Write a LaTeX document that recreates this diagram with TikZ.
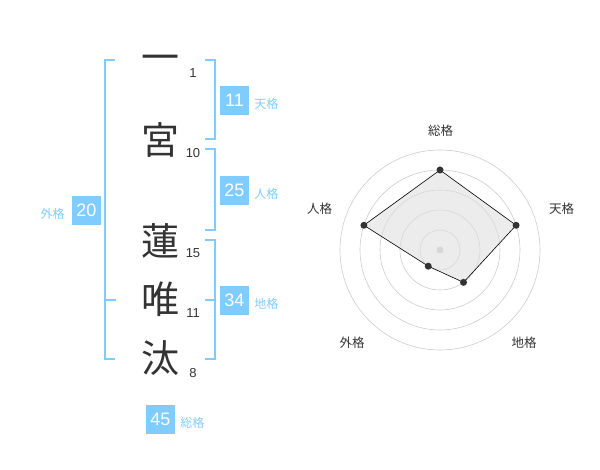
\documentclass[tikz,border=0pt]{standalone}
\usepackage{fontspec}
\setmainfont{Liberation Sans}
\newfontfamily\jp{Noto Sans CJK JP}
\usepackage{tikz}
\usetikzlibrary{positioning}
\definecolor{kakublue}{HTML}{80CCFF}
\definecolor{ink}{HTML}{333333}
\definecolor{ringgray}{HTML}{CCCCCC}
\tikzset{
bracket/.style={draw=kakublue,line width=2pt},
kanji/.style={font=\jp\fontsize{38}{38}\selectfont,text=ink,inner sep=0pt},
stroke/.style={font=\fontsize{13}{13}\selectfont,text=ink,inner sep=0pt},
numbox/.style={fill=kakublue,text=white,minimum width=29pt,minimum height=29pt,inner sep=0pt,font=\fontsize{18}{18}\selectfont},
kaku/.style={font=\jp\fontsize{12}{12}\selectfont,text=kakublue,inner sep=0pt},
ring/.style={draw=ringgray,line width=0.6pt},
axis/.style={font=\jp\fontsize{12.5}{12.5}\selectfont,text=ink,inner sep=0pt}
}

\begin{document}
\begin{tikzpicture}[x=1pt,y=-1pt]
\useasboundingbox (0,0) rectangle (600,470);

% brackets
\draw[bracket] (115,60)--(105,60)--(105,359)--(115,359);
\draw[bracket] (105,300)--(116,300);
\foreach \a/\b in {60/139,149/230,240/359}{
\draw[bracket] (205,\a)--(215,\a)--(215,\b)--(205,\b);
}
\draw[bracket] (205,300)--(215,300);

% name and strokes
\foreach \c/\y/\s/\t/\n in {一/63/1/73/a,宮/140/10/153/b,蓮/241/15/253/c,唯/299/11/313/d,汰/358/8/373/e}{
\node[kanji] (k\n) at (160,\y) {\c};
\node[stroke] (s\n) at (193,\t) {\s};
}

% kaku boxes
\node[numbox] (ten) at (234.5,100.5) {11};
\node[kaku,right=5pt of ten,yshift=-3pt] (tenl) {天格};
\node[numbox] (jin) at (234.5,190.5) {25};
\node[kaku,right=5pt of jin,yshift=-3pt] (jinl) {人格};
\node[numbox] (chi) at (234.5,300.5) {34};
\node[kaku,right=5pt of chi,yshift=-3pt] (chil) {地格};
\node[numbox] (gai) at (86.5,210.5) {20};
\node[kaku,left=7pt of gai,yshift=-3pt] (gail) {外格};
\node[numbox] (so) at (160.5,419.5) {45};
\node[kaku,right=5pt of so,yshift=-3pt] (sol) {総格};

% radar
\begin{scope}[shift={(440,250)},yscale=-1]
\foreach \r in {20,40,...,100}{
\draw[ring] (0,0) circle (\r pt);
}
\fill[ringgray] (0,0) circle (3.5pt);
\coordinate (pso) at (90:80);
\coordinate (pten) at (18:80);
\coordinate (pchi) at (-54:40);
\coordinate (pgai) at (-126:20);
\coordinate (pjin) at (162:80);
\draw[black,line width=0.6pt,fill=gray!25,fill opacity=0.6] (pso)--(pten)--(pchi)--(pgai)--(pjin)--cycle;
\foreach \p in {pso,pten,pchi,pgai,pjin}{
\fill[ink] (\p) circle (3.5pt);
}
\end{scope}
\node[axis] (aso) at (440.5,130.5) {総格};
\node[axis] (aten) at (561.5,209) {天格};
\node[axis] (ajin) at (319.5,209) {人格};
\node[axis] (agai) at (352,342.5) {外格};
\node[axis] (achi) at (524,342.5) {地格};
\end{tikzpicture}
\end{document}
